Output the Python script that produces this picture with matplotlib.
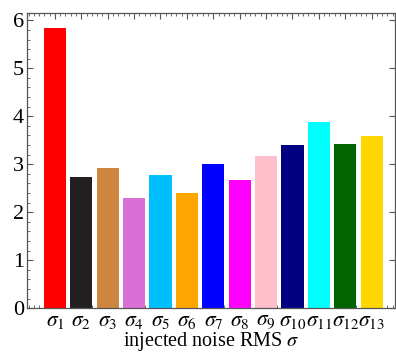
import numpy as np
import matplotlib
matplotlib.use('Agg')
import matplotlib.pyplot as plt
from matplotlib.ticker import MultipleLocator

plt.rcParams.update({
    'font.family': 'serif',
    'font.serif': ['Liberation Serif', 'DejaVu Serif'],
    'mathtext.fontset': 'stix',
    'font.size': 13,
})

labels = [r'$\sigma_{%d}$' % i for i in range(1, 14)]
values = [5.85, 2.73, 2.92, 2.29, 2.77, 2.40, 3.00, 2.67, 3.17, 3.40, 3.88, 3.42, 3.59]
colors = ['red', '#231f20', 'peru', 'orchid', 'deepskyblue', 'orange', 'blue',
          'magenta', 'pink', 'navy', 'cyan', 'darkgreen', 'gold']

fig = plt.figure(figsize=(3.96, 3.55), dpi=100)
ax = fig.add_axes([0.068, 0.132, 0.929, 0.831])

pos = np.arange(1, len(values) + 1)
ax.bar(pos, values, width=0.84, color=colors, zorder=2)

ax.set_xlim(-0.06, 13.88)
ax.set_ylim(0, 6.15)
ax.set_xticks(pos)
ax.set_xticklabels(labels, fontsize=15.5)
ax.xaxis.set_minor_locator(MultipleLocator(0.2))
ax.yaxis.set_major_locator(MultipleLocator(1))
ax.yaxis.set_minor_locator(MultipleLocator(0.2))
ax.tick_params(axis='both', which='major', direction='in', length=4, width=0.8,
               color='#555555', top=True, right=True)
ax.tick_params(axis='y', which='major', labelsize=16, pad=2)
ax.tick_params(axis='both', which='minor', direction='in', length=2, width=0.6,
               color='#555555', top=True, right=False)
ax.tick_params(axis='x', which='major', pad=3)
for s in ax.spines.values():
    s.set_color('#555555')
    s.set_linewidth(0.9)

ax.set_xlabel(r'injected noise RMS $\sigma$', fontsize=14.5, labelpad=-1)

fig.savefig('out.png', dpi=100)
